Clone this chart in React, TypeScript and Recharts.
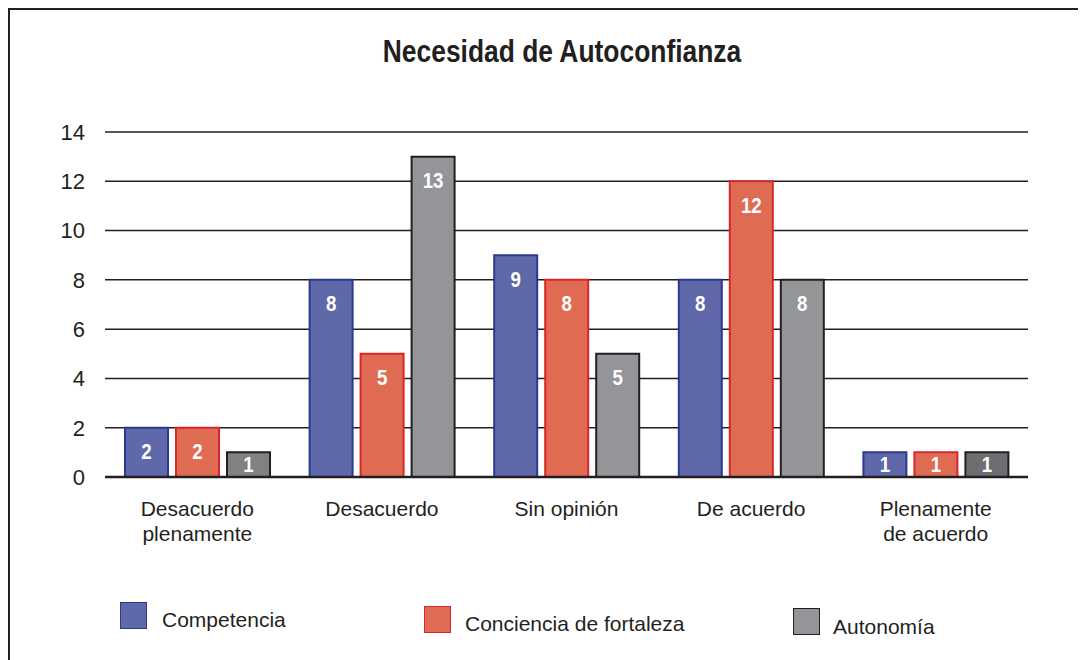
import React from "react";
import { BarChart, Bar, XAxis, YAxis, CartesianGrid, LabelList, Cell } from "recharts";

const categories = ["Desacuerdo plenamente", "Desacuerdo", "Sin opinión", "De acuerdo", "Plenamente de acuerdo"];
const categoryLines = [["Desacuerdo", "plenamente"], ["Desacuerdo"], ["Sin opinión"], ["De acuerdo"], ["Plenamente", "de acuerdo"]];
const competencia = [2, 8, 9, 8, 1];
const conciencia = [2, 5, 8, 12, 1];
const autonomia = [1, 13, 5, 8, 1];
const yTicks = [0, 2, 4, 6, 8, 10, 12, 14];
const seriesNames = ["Competencia", "Conciencia de fortaleza", "Autonomía"];
const title = "Necesidad de Autoconfianza";

const data = categories.map((c, i) => ({
  name: c,
  idx: i,
  competencia: competencia[i],
  conciencia: conciencia[i],
  autonomia: autonomia[i],
}));

const FONT = "'Liberation Sans', Arial, Helvetica, sans-serif";
const TEXT = "#231f20";

const colors = [
  { fill: "#5f68a8", stroke: "#2b3990" },
  { fill: "#e06b53", stroke: "#d7262c" },
  { fill: "#939598", stroke: "#231f20" },
];
const grayDark = ["#808183", "#939598", "#939598", "#939598", "#6d6e71"];

const ValueLabel = (props: any) => {
  const { x, y, width, height, value } = props;
  const cy = Math.min(y + 24, y + height / 2);
  const cx = x + width / 2;
  return (
    <text
      x={cx}
      y={cy}
      textAnchor="middle"
      dominantBaseline="central"
      fill="#ffffff"
      fontFamily={FONT}
      fontWeight="bold"
      fontSize={22}
      transform={`translate(${cx} 0) scale(0.85 1) translate(${-cx} 0)`}
    >
      {value}
    </text>
  );
};

const XTick = (props: any) => {
  const { x, y, payload } = props;
  const lines = categoryLines[payload.index] || [payload.value];
  return (
    <text x={x} y={y} textAnchor="middle" fill={TEXT} fontFamily={FONT} fontSize={21}>
      {lines.map((l: string, i: number) => (
        <tspan key={i} x={x} dy={i === 0 ? 31 : 25}>
          {l}
        </tspan>
      ))}
    </text>
  );
};

const legendPos = [
  { box: [120, 602], text: [162, 620] },
  { box: [424, 606], text: [465, 624] },
  { box: [793, 608], text: [833, 627] },
];

export default function App() {
  return (
    <div style={{ position: "relative", width: 1078, height: 652, background: "#fff" }}>
      <div
        style={{
          position: "absolute",
          left: 0,
          top: 0,
          width: 1100,
          height: 700,
          borderLeft: `2px solid ${TEXT}`,
          borderTop: `2px solid ${TEXT}`,
          boxSizing: "border-box",
        }}
      />
      <div
        style={{
          position: "absolute",
          left: 554 - 400,
          width: 800,
          top: 25,
          textAlign: "center",
          fontFamily: FONT,
          fontWeight: "bold",
          fontSize: 32,
          lineHeight: "36px",
          color: TEXT,
          transform: "scaleX(0.825)",
          whiteSpace: "nowrap",
        }}
      >
        {title}
      </div>
      <div style={{ position: "absolute", left: 0, top: 0 }}>
        <BarChart
          width={1078}
          height={652}
          data={data}
          margin={{ top: 124, right: 58, left: 57, bottom: 123 }}
          barSize={43}
          barGap={8}
        >
          <CartesianGrid vertical={false} stroke={TEXT} strokeWidth={1.5} />
          <XAxis
            dataKey="name"
            height={60}
            axisLine={{ stroke: TEXT, strokeWidth: 2.5 }}
            tickLine={false}
            tick={<XTick />}
            interval={0}
          />
          <YAxis
            width={40}
            domain={[0, 14]}
            ticks={yTicks}
            axisLine={false}
            tickLine={false}
            tickMargin={14}
            tick={{ fill: TEXT, fontFamily: FONT, fontSize: 22 }}
          />
          <Bar dataKey="competencia" fill={colors[0].fill} stroke={colors[0].stroke} strokeWidth={2} isAnimationActive={false}>
            <LabelList dataKey="competencia" content={<ValueLabel />} />
          </Bar>
          <Bar dataKey="conciencia" fill={colors[1].fill} stroke={colors[1].stroke} strokeWidth={2} isAnimationActive={false}>
            <LabelList dataKey="conciencia" content={<ValueLabel />} />
          </Bar>
          <Bar dataKey="autonomia" fill={colors[2].fill} stroke={colors[2].stroke} strokeWidth={2} isAnimationActive={false}>
            {data.map((d, i) => (
              <Cell key={i} fill={grayDark[i]} />
            ))}
            <LabelList dataKey="autonomia" content={<ValueLabel />} />
          </Bar>
        </BarChart>
      </div>
      {seriesNames.map((n, i) => (
        <React.Fragment key={n}>
          <div
            style={{
              position: "absolute",
              left: legendPos[i].box[0] - 8,
              top: legendPos[i].box[1] - 8,
              width: 25,
              height: 25,
              background: colors[i].fill,
              border: `1.5px solid ${colors[i].stroke}`,
            }}
          />
          <div
            style={{
              position: "absolute",
              left: legendPos[i].text[0] - 8,
              top: legendPos[i].text[1] - 8 - 13,
              fontFamily: FONT,
              fontSize: 21,
              color: TEXT,
              lineHeight: "26px",
              whiteSpace: "nowrap",
            }}
          >
            {n}
          </div>
        </React.Fragment>
      ))}
    </div>
  );
}
